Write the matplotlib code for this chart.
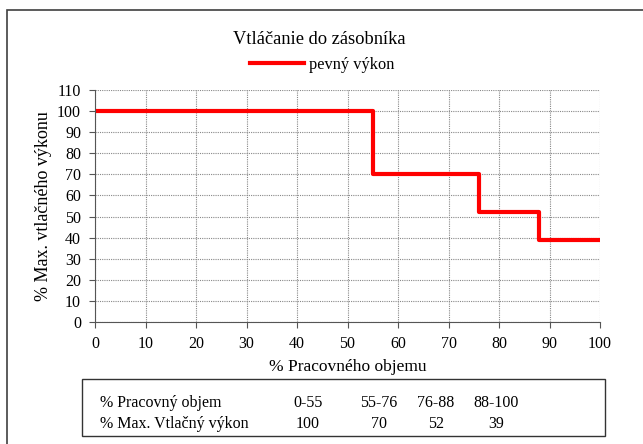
import matplotlib.pyplot as plt
from matplotlib.patches import Rectangle

# data
edges = [0, 55, 76, 88, 100]
power = [100, 70, 52, 39]
ranges = ['0-55', '55-76', '76-88', '88-100']
row_labels = ['% Pracovný objem', '% Max. Vtlačný výkon']

plt.rcParams['font.family'] = ['Liberation Serif', 'DejaVu Serif']

fig = plt.figure(figsize=(6.43, 4.44), dpi=100)

# outer chart frame (cut off on right/bottom like the original)
fig.patches.append(Rectangle((7 / 643, -0.1), 1.2, 1 - 10 / 444 + 0.1,
                             transform=fig.transFigure, fill=False,
                             edgecolor='#404040', linewidth=1.2))

ax = fig.add_axes([95 / 643, 1 - 322 / 444, 505 / 643, 232 / 444])
ax.step(edges, power + [power[-1]], where='post', color='#ff0000', lw=3, label='pevný výkon')
ax.set_xlim(0, 100)
ax.set_ylim(0, 110)
ax.set_xticks(range(0, 101, 10))
ax.set_yticks(range(0, 111, 10))
ax.grid(True, color='#888888', linestyle=(0, (1, 1)), linewidth=0.8)
for s in ['top', 'right']:
    ax.spines[s].set_visible(False)
for s in ['left', 'bottom']:
    ax.spines[s].set_color('#555555')
ax.tick_params(labelsize=11.5, length=4, color='#555555', pad=6)
ax.set_xlabel('% Pracovného objemu', fontsize=12.5, labelpad=5)
ax.set_ylabel('% Max. vtlačného výkonu', fontsize=13, labelpad=4)

fig.text(319 / 643, 1 - 40 / 444, 'Vtláčanie do zásobníka', ha='center', va='center', fontsize=13.3)
ax.legend(loc='center', bbox_to_anchor=(322 / 643, 1 - 65 / 444), bbox_transform=fig.transFigure,
          frameon=False, fontsize=11.8, handlelength=3.3, handletextpad=0.3)

# value table below the chart
fig.patches.append(Rectangle((82 / 643, 1 - 436 / 444), 523 / 643, 57 / 444,
                             transform=fig.transFigure, fill=False,
                             edgecolor='#333333', linewidth=1))
col_x = [308, 379, 436, 496]
row_y = [403, 424]
fig.text(100 / 643, 1 - row_y[0] / 444, row_labels[0], va='center', fontsize=11.5)
fig.text(100 / 643, 1 - row_y[1] / 444, row_labels[1], va='center', fontsize=11.5)
for cx, r, p in zip(col_x, ranges, power):
    fig.text(cx / 643, 1 - row_y[0] / 444, r, ha='center', va='center', fontsize=11.5)
    fig.text(cx / 643, 1 - row_y[1] / 444, str(p), ha='center', va='center', fontsize=11.5)

fig.savefig('out.png', dpi=100)
